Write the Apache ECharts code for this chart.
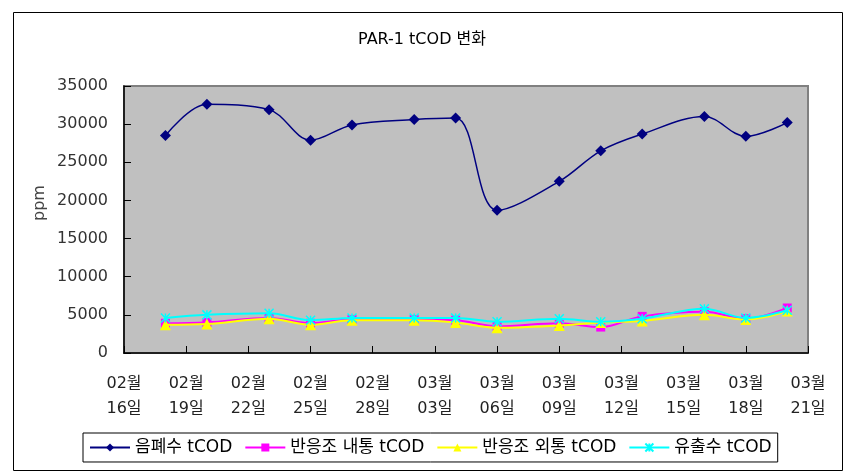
<!DOCTYPE html>
<html>
<head>
<meta charset="utf-8">
<script src="https://cdn.jsdelivr.net/npm/echarts@6/dist/echarts.min.js"></script>
<style>html,body{margin:0;padding:0;background:#fff}#c{width:844px;height:472px}</style>
</head>
<body>
<div id="c"></div>
<script>
var titleText = 'PAR-1 tCOD 변화';
var yName = 'ppm';
var dates = ['2009-02-18','2009-02-20','2009-02-23','2009-02-25','2009-02-27','2009-03-02','2009-03-04','2009-03-06','2009-03-09','2009-03-11','2009-03-13','2009-03-16','2009-03-18','2009-03-20'];
var startDate = '2009-02-16';
var seriesNames = ['음폐수 tCOD','반응조 내통 tCOD','반응조 외통 tCOD','유출수 tCOD'];
var s1 = [28500, 32600, 31900, 27900, 29900, 30600, 30800, 18700, 22500, 26500, 28700, 31000, 28400, 30200];
var s2 = [3900, 4000, 4600, 3900, 4400, 4400, 4300, 3500, 3900, 3400, 4800, 5400, 4500, 5900];
var s3 = [3700, 3800, 4500, 3700, 4300, 4300, 4000, 3300, 3600, 4000, 4200, 5000, 4400, 5500];
var s4 = [4600, 5000, 5200, 4300, 4600, 4600, 4600, 4100, 4500, 4100, 4500, 5800, 4600, 5600];
var tickLabels = ['02월\n16일','02월\n19일','02월\n22일','02월\n25일','02월\n28일','03월\n03일','03월\n06일','03월\n09일','03월\n12일','03월\n15일','03월\n18일','03월\n21일'];

function dayOffset(s){
  var p = s.split('-'), q = startDate.split('-');
  return (Date.UTC(+p[0], +p[1]-1, +p[2]) - Date.UTC(+q[0], +q[1]-1, +q[2])) / 86400000;
}
function pairs(vals){ return vals.map(function(v,i){ return [dayOffset(dates[i]), v]; }); }

var FONT = 'DejaVu Sans, Noto Sans CJK KR, sans-serif';
var chart = echarts.init(document.getElementById('c'), null, {renderer:'canvas'});
var colors = ['#000080','#FF00FF','#FFFF00','#00FFFF'];
var symbols = ['diamond','rect','triangle','path://M0,0L10,10M10,0L0,10M5,0L5,10'];
var sizes = [11, 9, 11, 9];
var data = [s1, s2, s3, s4];
var series = data.map(function(d, i){
  return {
    name: seriesNames[i], type: 'line', smooth: 0.35,
    data: pairs(d),
    symbol: symbols[i], symbolSize: sizes[i], showSymbol: true,
    lineStyle: {color: colors[i], width: i === 0 ? 1.5 : 2},
    itemStyle: {color: colors[i], borderColor: colors[i], borderWidth: i === 3 ? 1.5 : 0},
    z: 2 + i,
    animation: false
  };
});

chart.setOption({
  animation: false,
  title: {text: titleText, left: 'center', top: 27, textStyle: {fontFamily: FONT, fontSize: 16, fontWeight: 'normal', color: '#000'}},
  grid: {left: 124, right: 36, top: 86, bottom: 119, show: true, backgroundColor: '#C0C0C0', borderColor: '#808080', borderWidth: 2},
  xAxis: {
    type: 'value', min: 0, max: 33, interval: 3,
    axisLine: {show: true, onZero: false, lineStyle: {color: '#000', width: 1.5}},
    axisTick: {show: true, inside: true, length: 7, lineStyle: {color: '#000'}},
    splitLine: {show: false},
    axisLabel: {margin: 18, fontFamily: FONT, fontSize: 16, lineHeight: 25, color: '#222',
      formatter: function(v){ return tickLabels[Math.round(v/3)] || ''; }}
  },
  yAxis: {
    type: 'value', min: 0, max: 35000, interval: 5000,
    axisLine: {show: true, lineStyle: {color: '#000', width: 1.5}},
    axisTick: {show: true, inside: true, length: 7, lineStyle: {color: '#000'}},
    splitLine: {show: false},
    axisLabel: {margin: 16, fontFamily: FONT, fontSize: 16, color: '#333',
      formatter: function(v){ return String(v); }}
  },
  legend: {
    left: 83, top: 433, itemWidth: 40, itemHeight: 10, itemGap: 12,
    padding: [6, 6], borderColor: '#000', borderWidth: 1,
    textStyle: {fontFamily: FONT, fontSize: 17, color: '#000'},
    data: seriesNames
  },
  graphic: [
    {type: 'rect', left: 11, top: 10, shape: {width: 829, height: 458}, style: {fill: null, stroke: '#000', lineWidth: 1}, silent: true, z: -1},
    {type: 'text', x: 40, y: 203, rotation: Math.PI/2, style: {text: yName, fontFamily: FONT, fontSize: 16, fill: '#444', textAlign: 'center', textVerticalAlign: 'middle'}}
  ],
  series: series
});
</script>
</body>
</html>
